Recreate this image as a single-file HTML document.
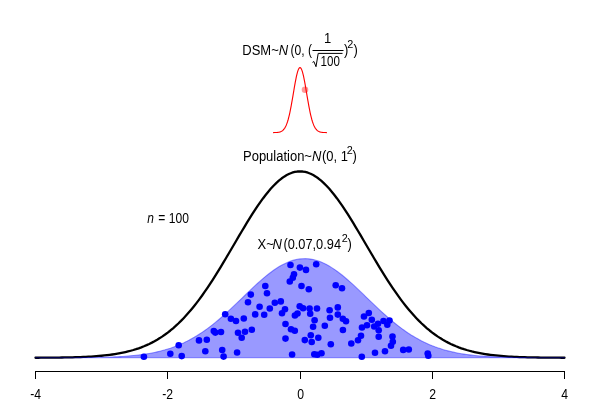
<!DOCTYPE html>
<html><head><meta charset="utf-8"><title>plot</title>
<style>
html,body{margin:0;padding:0;background:#fff}
svg{display:block}
text{font-family:"Liberation Sans",Arial,sans-serif;font-size:13px;fill:#000}
.i{font-style:italic}
.s{font-size:9.7px}
</style></head><body>
<svg width="600" height="400" viewBox="0 0 600 400">
<rect width="600" height="400" fill="#fff"/>
<path d="M35.50 357.74 L38.14 357.73 L40.79 357.71 L43.44 357.70 L46.08 357.68 L48.73 357.66 L51.37 357.64 L54.02 357.62 L56.66 357.59 L59.30 357.55 L61.95 357.51 L64.59 357.47 L67.24 357.42 L69.88 357.36 L72.53 357.30 L75.18 357.22 L77.82 357.14 L80.47 357.05 L83.11 356.94 L85.75 356.82 L88.40 356.69 L91.04 356.53 L93.69 356.37 L96.34 356.18 L98.98 355.96 L101.62 355.73 L104.27 355.47 L106.91 355.18 L109.56 354.85 L112.21 354.50 L114.85 354.10 L117.50 353.67 L120.14 353.19 L122.79 352.66 L125.43 352.08 L128.07 351.45 L130.72 350.76 L133.37 350.01 L136.01 349.19 L138.66 348.30 L141.30 347.34 L143.94 346.29 L146.59 345.16 L149.23 343.94 L151.88 342.63 L154.52 341.22 L157.17 339.71 L159.81 338.10 L162.46 336.37 L165.10 334.53 L167.75 332.57 L170.40 330.49 L173.04 328.29 L175.69 325.96 L178.33 323.50 L180.98 320.91 L183.62 318.18 L186.26 315.33 L188.91 312.34 L191.56 309.22 L194.20 305.97 L196.84 302.59 L199.49 299.08 L202.13 295.45 L204.78 291.70 L207.43 287.83 L210.07 283.86 L212.72 279.79 L215.36 275.63 L218.00 271.38 L220.65 267.06 L223.29 262.67 L225.94 258.23 L228.58 253.75 L231.23 249.25 L233.88 244.73 L236.52 240.21 L239.17 235.70 L241.81 231.23 L244.46 226.80 L247.10 222.43 L249.75 218.14 L252.39 213.94 L255.03 209.86 L257.68 205.90 L260.32 202.08 L262.97 198.43 L265.62 194.95 L268.26 191.66 L270.91 188.57 L273.55 185.71 L276.19 183.07 L278.84 180.68 L281.49 178.54 L284.13 176.67 L286.77 175.07 L289.42 173.75 L292.06 172.71 L294.71 171.97 L297.36 171.52 L300.00 171.37 L302.64 171.52 L305.29 171.97 L307.94 172.71 L310.58 173.75 L313.23 175.07 L315.87 176.67 L318.51 178.54 L321.16 180.68 L323.81 183.07 L326.45 185.71 L329.10 188.57 L331.74 191.66 L334.38 194.95 L337.03 198.43 L339.67 202.08 L342.32 205.90 L344.96 209.86 L347.61 213.94 L350.25 218.14 L352.90 222.43 L355.54 226.80 L358.19 231.23 L360.83 235.70 L363.48 240.21 L366.12 244.73 L368.77 249.25 L371.42 253.75 L374.06 258.23 L376.71 262.67 L379.35 267.06 L382.00 271.38 L384.64 275.63 L387.29 279.79 L389.93 283.86 L392.58 287.83 L395.22 291.70 L397.87 295.45 L400.51 299.08 L403.15 302.59 L405.80 305.97 L408.44 309.22 L411.09 312.34 L413.74 315.33 L416.38 318.18 L419.02 320.91 L421.67 323.50 L424.31 325.96 L426.96 328.29 L429.61 330.49 L432.25 332.57 L434.89 334.53 L437.54 336.37 L440.19 338.10 L442.83 339.71 L445.48 341.22 L448.12 342.63 L450.76 343.94 L453.41 345.16 L456.06 346.29 L458.70 347.34 L461.35 348.30 L463.99 349.19 L466.63 350.01 L469.28 350.76 L471.92 351.45 L474.57 352.08 L477.21 352.66 L479.86 353.19 L482.50 353.67 L485.15 354.10 L487.79 354.50 L490.44 354.85 L493.09 355.18 L495.73 355.47 L498.38 355.73 L501.02 355.96 L503.66 356.18 L506.31 356.37 L508.96 356.53 L511.60 356.69 L514.25 356.82 L516.89 356.94 L519.54 357.05 L522.18 357.14 L524.83 357.22 L527.47 357.30 L530.12 357.36 L532.76 357.42 L535.40 357.47 L538.05 357.51 L540.69 357.55 L543.34 357.59 L545.99 357.62 L548.63 357.64 L551.27 357.66 L553.92 357.68 L556.57 357.70 L559.21 357.71 L561.86 357.73 L564.50 357.74" fill="none" stroke="#000" stroke-width="2.3" stroke-linejoin="round" stroke-linecap="round"/>
<path d="M35.50 357.79 L38.14 357.79 L40.79 357.79 L43.44 357.79 L46.08 357.78 L48.73 357.78 L51.37 357.78 L54.02 357.77 L56.66 357.77 L59.30 357.76 L61.95 357.75 L64.59 357.74 L67.24 357.73 L69.88 357.72 L72.53 357.71 L75.18 357.69 L77.82 357.67 L80.47 357.65 L83.11 357.63 L85.75 357.60 L88.40 357.57 L91.04 357.53 L93.69 357.49 L96.34 357.44 L98.98 357.38 L101.62 357.32 L104.27 357.25 L106.91 357.17 L109.56 357.08 L112.21 356.98 L114.85 356.86 L117.50 356.73 L120.14 356.59 L122.79 356.43 L125.43 356.25 L128.07 356.04 L130.72 355.82 L133.37 355.57 L136.01 355.30 L138.66 354.99 L141.30 354.66 L143.94 354.29 L146.59 353.89 L149.23 353.44 L151.88 352.96 L154.52 352.43 L157.17 351.85 L159.81 351.23 L162.46 350.55 L165.10 349.82 L167.75 349.02 L170.40 348.17 L173.04 347.25 L175.69 346.27 L178.33 345.22 L180.98 344.09 L183.62 342.89 L186.26 341.62 L188.91 340.27 L191.56 338.84 L194.20 337.34 L196.84 335.75 L199.49 334.08 L202.13 332.34 L204.78 330.51 L207.43 328.61 L210.07 326.62 L212.72 324.57 L215.36 322.44 L218.00 320.25 L220.65 317.99 L223.29 315.67 L225.94 313.30 L228.58 310.88 L231.23 308.42 L233.88 305.92 L236.52 303.40 L239.17 300.85 L241.81 298.29 L244.46 295.74 L247.10 293.18 L249.75 290.65 L252.39 288.14 L255.03 285.67 L257.68 283.25 L260.32 280.88 L262.97 278.58 L265.62 276.37 L268.26 274.24 L270.91 272.21 L273.55 270.29 L276.19 268.49 L278.84 266.82 L281.49 265.28 L284.13 263.89 L286.77 262.64 L289.42 261.56 L292.06 260.64 L294.71 259.89 L297.36 259.31 L300.00 258.91 L302.64 258.69 L305.29 258.64 L307.94 258.78 L310.58 259.09 L313.23 259.58 L315.87 260.25 L318.51 261.08 L321.16 262.08 L323.81 263.25 L326.45 264.56 L329.10 266.03 L331.74 267.64 L334.38 269.37 L337.03 271.23 L339.67 273.21 L342.32 275.29 L344.96 277.47 L347.61 279.72 L350.25 282.06 L352.90 284.45 L355.54 286.90 L358.19 289.39 L360.83 291.91 L363.48 294.46 L366.12 297.02 L368.77 299.57 L371.42 302.13 L374.06 304.66 L376.71 307.17 L379.35 309.66 L382.00 312.10 L384.64 314.49 L387.29 316.84 L389.93 319.13 L392.58 321.36 L395.22 323.52 L397.87 325.61 L400.51 327.62 L403.15 329.57 L405.80 331.43 L408.44 333.22 L411.09 334.93 L413.74 336.55 L416.38 338.10 L419.02 339.57 L421.67 340.96 L424.31 342.27 L426.96 343.50 L429.61 344.66 L432.25 345.75 L434.89 346.77 L437.54 347.72 L440.19 348.60 L442.83 349.43 L445.48 350.19 L448.12 350.90 L450.76 351.55 L453.41 352.15 L456.06 352.70 L458.70 353.21 L461.35 353.67 L463.99 354.09 L466.63 354.48 L469.28 354.83 L471.92 355.15 L474.57 355.44 L477.21 355.70 L479.86 355.94 L482.50 356.15 L485.15 356.34 L487.79 356.51 L490.44 356.66 L493.09 356.80 L495.73 356.92 L498.38 357.03 L501.02 357.13 L503.66 357.21 L506.31 357.29 L508.96 357.35 L511.60 357.41 L514.25 357.46 L516.89 357.51 L519.54 357.55 L522.18 357.58 L524.83 357.61 L527.47 357.64 L530.12 357.66 L532.76 357.68 L535.40 357.70 L538.05 357.71 L540.69 357.73 L543.34 357.74 L545.99 357.75 L548.63 357.76 L551.27 357.76 L553.92 357.77 L556.57 357.77 L559.21 357.78 L561.86 357.78 L564.50 357.78 Z" fill="rgba(0,0,255,0.4)" stroke="rgba(0,0,255,0.4)" stroke-width="1.1" stroke-linejoin="round"/>
<g fill="#0000ff"><circle cx="143.9" cy="356.7" r="3.3"/><circle cx="170.3" cy="353.7" r="3.3"/><circle cx="178.7" cy="345.3" r="3.3"/><circle cx="181.7" cy="356.1" r="3.3"/><circle cx="199.0" cy="340.4" r="3.3"/><circle cx="205.3" cy="351.3" r="3.3"/><circle cx="206.8" cy="339.8" r="3.3"/><circle cx="248.0" cy="302.2" r="3.3"/><circle cx="259.6" cy="306.8" r="3.3"/><circle cx="269.8" cy="308.5" r="3.3"/><circle cx="274.8" cy="302.7" r="3.3"/><circle cx="255.2" cy="314.4" r="3.3"/><circle cx="264.2" cy="314.7" r="3.3"/><circle cx="225.2" cy="314.3" r="3.3"/><circle cx="230.9" cy="318.8" r="3.3"/><circle cx="236.0" cy="321.0" r="3.3"/><circle cx="243.8" cy="318.5" r="3.3"/><circle cx="213.8" cy="331.0" r="3.3"/><circle cx="215.3" cy="332.6" r="3.3"/><circle cx="221.0" cy="332.0" r="3.3"/><circle cx="238.0" cy="332.7" r="3.3"/><circle cx="245.0" cy="331.8" r="3.3"/><circle cx="251.8" cy="329.7" r="3.3"/><circle cx="241.7" cy="337.8" r="3.3"/><circle cx="222.2" cy="350.0" r="3.3"/><circle cx="223.6" cy="356.6" r="3.3"/><circle cx="237.1" cy="352.5" r="3.3"/><circle cx="280.8" cy="301.4" r="3.3"/><circle cx="285.0" cy="309.2" r="3.3"/><circle cx="282.0" cy="313.2" r="3.3"/><circle cx="299.7" cy="306.3" r="3.3"/><circle cx="303.1" cy="308.3" r="3.3"/><circle cx="297.5" cy="313.5" r="3.3"/><circle cx="294.9" cy="315.5" r="3.3"/><circle cx="309.6" cy="308.5" r="3.3"/><circle cx="310.2" cy="313.8" r="3.3"/><circle cx="317.0" cy="308.5" r="3.3"/><circle cx="329.6" cy="310.3" r="3.3"/><circle cx="337.8" cy="307.4" r="3.3"/><circle cx="337.8" cy="314.6" r="3.3"/><circle cx="330.0" cy="317.7" r="3.3"/><circle cx="342.8" cy="318.8" r="3.3"/><circle cx="346.0" cy="321.3" r="3.3"/><circle cx="314.6" cy="320.3" r="3.3"/><circle cx="313.1" cy="326.7" r="3.3"/><circle cx="324.8" cy="325.8" r="3.3"/><circle cx="285.5" cy="324.0" r="3.3"/><circle cx="291.0" cy="329.3" r="3.3"/><circle cx="294.8" cy="330.8" r="3.3"/><circle cx="342.9" cy="330.0" r="3.3"/><circle cx="310.8" cy="335.3" r="3.3"/><circle cx="318.3" cy="337.8" r="3.3"/><circle cx="304.8" cy="340.1" r="3.3"/><circle cx="311.7" cy="342.0" r="3.3"/><circle cx="285.5" cy="338.6" r="3.3"/><circle cx="330.8" cy="344.3" r="3.3"/><circle cx="292.1" cy="354.5" r="3.3"/><circle cx="314.3" cy="354.3" r="3.3"/><circle cx="317.3" cy="354.8" r="3.3"/><circle cx="321.5" cy="353.3" r="3.3"/><circle cx="368.8" cy="313.0" r="3.3"/><circle cx="364.0" cy="316.5" r="3.3"/><circle cx="371.8" cy="319.8" r="3.3"/><circle cx="367.0" cy="325.2" r="3.3"/><circle cx="362.0" cy="327.5" r="3.3"/><circle cx="374.2" cy="326.5" r="3.3"/><circle cx="378.0" cy="323.7" r="3.3"/><circle cx="378.7" cy="330.3" r="3.3"/><circle cx="383.5" cy="321.0" r="3.3"/><circle cx="389.5" cy="320.5" r="3.3"/><circle cx="387.3" cy="324.8" r="3.3"/><circle cx="378.7" cy="336.8" r="3.3"/><circle cx="361.0" cy="335.7" r="3.3"/><circle cx="358.0" cy="340.2" r="3.3"/><circle cx="351.3" cy="343.5" r="3.3"/><circle cx="392.5" cy="336.5" r="3.3"/><circle cx="392.8" cy="341.7" r="3.3"/><circle cx="391.0" cy="345.8" r="3.3"/><circle cx="385.0" cy="351.3" r="3.3"/><circle cx="375.0" cy="352.8" r="3.3"/><circle cx="361.8" cy="356.7" r="3.3"/><circle cx="403.2" cy="349.9" r="3.3"/><circle cx="408.8" cy="349.5" r="3.3"/><circle cx="290.5" cy="265.0" r="3.3"/><circle cx="299.9" cy="267.6" r="3.3"/><circle cx="306.0" cy="269.9" r="3.3"/><circle cx="294.0" cy="274.3" r="3.3"/><circle cx="292.8" cy="277.8" r="3.3"/><circle cx="289.8" cy="281.5" r="3.3"/><circle cx="301.5" cy="286.0" r="3.3"/><circle cx="308.8" cy="289.3" r="3.3"/><circle cx="265.3" cy="286.0" r="3.3"/><circle cx="267.0" cy="293.2" r="3.3"/><circle cx="250.8" cy="294.6" r="3.3"/><circle cx="316.2" cy="264.3" r="3.3"/><circle cx="335.7" cy="285.3" r="3.3"/><circle cx="342.0" cy="288.3" r="3.3"/><circle cx="427.7" cy="353.5" r="3.3"/><circle cx="428.3" cy="355.8" r="3.3"/></g>
<path d="M273.55 132.58 L273.99 132.57 L274.43 132.56 L274.87 132.55 L275.31 132.54 L275.75 132.52 L276.19 132.50 L276.64 132.47 L277.08 132.44 L277.52 132.40 L277.96 132.35 L278.40 132.29 L278.84 132.21 L279.28 132.12 L279.72 132.01 L280.16 131.88 L280.60 131.72 L281.04 131.53 L281.49 131.31 L281.93 131.05 L282.37 130.74 L282.81 130.39 L283.25 129.97 L283.69 129.50 L284.13 128.95 L284.57 128.33 L285.01 127.62 L285.45 126.82 L285.89 125.92 L286.33 124.92 L286.77 123.80 L287.22 122.57 L287.66 121.22 L288.10 119.74 L288.54 118.13 L288.98 116.39 L289.42 114.53 L289.86 112.54 L290.30 110.43 L290.74 108.20 L291.18 105.88 L291.62 103.46 L292.06 100.96 L292.51 98.40 L292.95 95.80 L293.39 93.18 L293.83 90.55 L294.27 87.95 L294.71 85.40 L295.15 82.93 L295.59 80.55 L296.03 78.31 L296.47 76.22 L296.91 74.31 L297.36 72.60 L297.80 71.11 L298.24 69.87 L298.68 68.89 L299.12 68.18 L299.56 67.74 L300.00 67.60 L300.44 67.74 L300.88 68.18 L301.32 68.89 L301.76 69.87 L302.20 71.11 L302.64 72.60 L303.09 74.31 L303.53 76.22 L303.97 78.31 L304.41 80.55 L304.85 82.93 L305.29 85.40 L305.73 87.95 L306.17 90.55 L306.61 93.18 L307.05 95.80 L307.49 98.40 L307.94 100.96 L308.38 103.46 L308.82 105.88 L309.26 108.20 L309.70 110.43 L310.14 112.54 L310.58 114.53 L311.02 116.39 L311.46 118.13 L311.90 119.74 L312.34 121.22 L312.78 122.57 L313.23 123.80 L313.67 124.92 L314.11 125.92 L314.55 126.82 L314.99 127.62 L315.43 128.33 L315.87 128.95 L316.31 129.50 L316.75 129.97 L317.19 130.39 L317.63 130.74 L318.07 131.05 L318.51 131.31 L318.96 131.53 L319.40 131.72 L319.84 131.88 L320.28 132.01 L320.72 132.12 L321.16 132.21 L321.60 132.29 L322.04 132.35 L322.48 132.40 L322.92 132.44 L323.36 132.47 L323.81 132.50 L324.25 132.52 L324.69 132.54 L325.13 132.55 L325.57 132.56 L326.01 132.57 L326.45 132.58" fill="none" stroke="#ff0000" stroke-width="1.12" stroke-linejoin="round" stroke-linecap="round"/>
<circle cx="305.0" cy="89.8" r="3.3" fill="rgba(255,0,0,0.4)"/>
<g stroke="#000" stroke-width="1" fill="none" stroke-linecap="square"><path d="M35.5 371.5H564.5"/><path d="M35.5 371.5v7"/><path d="M167.5 371.5v7"/><path d="M300.5 371.5v7"/><path d="M432.5 371.5v7"/><path d="M564.5 371.5v7"/></g>
<text transform="translate(35.6 398.9) scale(0.94 1.08)" text-anchor="middle">-4</text><text transform="translate(167.6 398.9) scale(0.94 1.08)" text-anchor="middle">-2</text><text transform="translate(300.6 398.9) scale(0.94 1.08)" text-anchor="middle">0</text><text transform="translate(432.6 398.9) scale(0.94 1.08)" text-anchor="middle">2</text><text transform="translate(564.6 398.9) scale(0.94 1.08)" text-anchor="middle">4</text>
<text transform="translate(242.3 55.0) scale(1.0 1.08)" text-anchor="start">DSM~<tspan class="i">N</tspan></text><text transform="translate(290.6 55.0) scale(0.93 1.08)" text-anchor="start">(0, (</text><text transform="translate(327.5 43.2) scale(1.0 1.08)" text-anchor="middle">1</text><text transform="translate(320.6 65.6) scale(0.89 1.08)" text-anchor="start">100</text><text transform="translate(343.9 55.0) scale(1.0 1.08)" text-anchor="start">)</text><text class="s" transform="translate(347.3 48.0) scale(1.12 1.08)" text-anchor="start">2</text><text transform="translate(353.5 55.0) scale(1.0 1.08)" text-anchor="start">)</text><text transform="translate(243.0 161.0) scale(1.0 1.08)" text-anchor="start">Population~<tspan class="i">N</tspan></text><text transform="translate(322.0 161.0) scale(1.0 1.08)" text-anchor="start">(0, 1</text><text class="s" transform="translate(346.7 154.2) scale(1.12 1.08)" text-anchor="start">2</text><text transform="translate(352.5 161.0) scale(1.0 1.08)" text-anchor="start">)</text><text transform="translate(257.6 248.6) scale(1.0 1.08)" text-anchor="start">X~</text><text class="i" transform="translate(272.6 248.6) scale(1.0 1.08)" text-anchor="start">N</text><text transform="translate(283.4 248.6) scale(0.985 1.08)" text-anchor="start">(0.07,0.94</text><text class="s" transform="translate(341.8 241.8) scale(1.12 1.08)" text-anchor="start">2</text><text transform="translate(347.5 248.6) scale(1.0 1.08)" text-anchor="start">)</text><text class="i" transform="translate(147.3 222.7) scale(0.92 1.08)" text-anchor="start">n</text><text transform="translate(158.3 222.7) scale(0.93 1.08)" text-anchor="start">= 100</text>
<path d="M312.5 50.5H343.5" stroke="#000" stroke-width="1" fill="none"/>
<path d="M312.5 62.4l1.4 -0.9l2.1 5.2l2.2 -13.3H342.5" stroke="#000" stroke-width="1" fill="none"/>
</svg>
</body></html>
